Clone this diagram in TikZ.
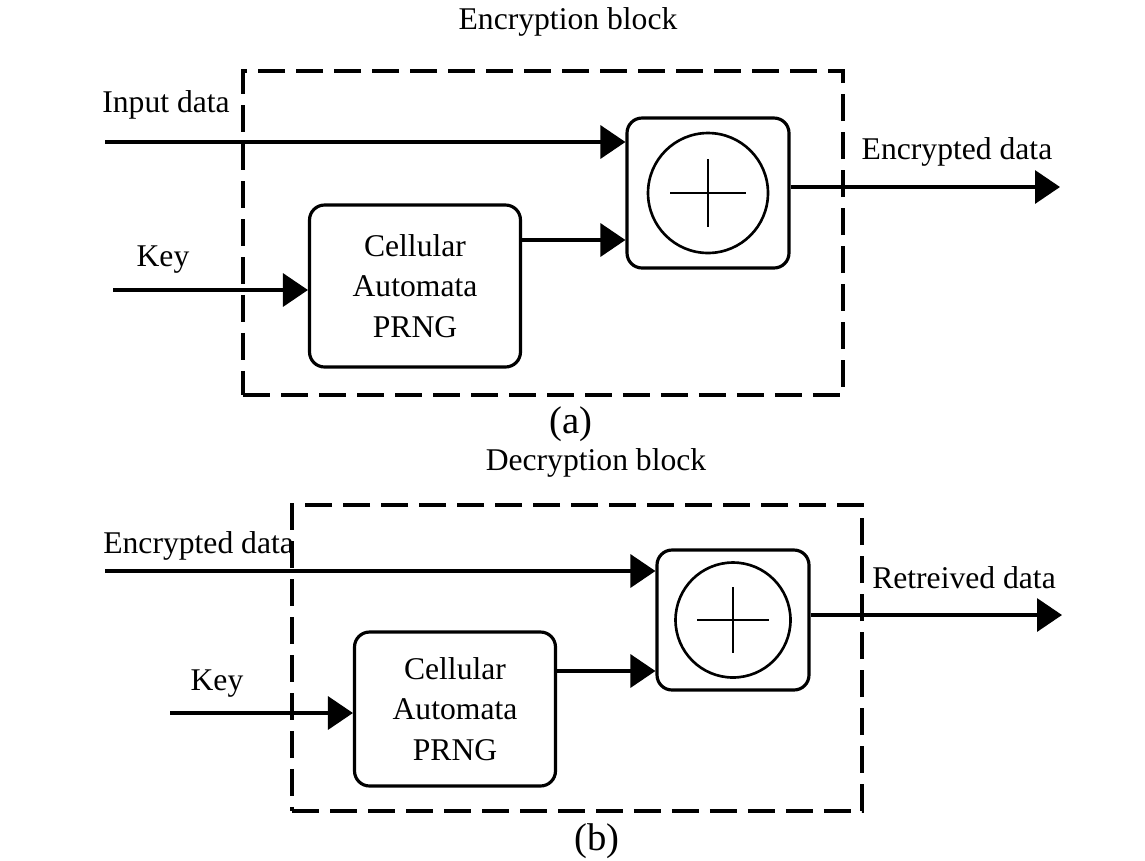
\documentclass[tikz,border=0pt]{standalone}
\usepackage{fontspec}
\setmainfont{Liberation Serif}
\usetikzlibrary{positioning,arrows.meta}
\tikzset{
  sig/.style={-{Triangle[length=5mm,width=6.6mm]},line width=1.9pt},
  blk/.style={draw,dash pattern=on 5.4mm off 2.2mm,line width=1.9pt,inner sep=0pt},
  unit/.style={draw,rounded corners=3mm,line width=1.8pt,align=center,
    font=\fontsize{18}{23}\selectfont},
  xring/.style={draw,circle,line width=1.5pt,inner sep=0pt},
  lbl/.style={font=\fontsize{18}{22}\selectfont,inner sep=0pt},
  subcap/.style={font=\fontsize{22}{26}\selectfont,inner sep=0pt},
}

\begin{document}
\begin{tikzpicture}[x=0.02cm,y=-0.02cm]
  \useasboundingbox (0,0) rectangle (1145,860);

  % (a) encryption
  \node[lbl] (enctitle) at (568,22) {Encryption block};
  \node[blk,minimum width=12cm,minimum height=6.48cm] (enc) at (543,233) {};
  \node[unit,minimum width=3.24cm,minimum height=3cm] (xa) at (708,193) {};
  \node[xring,minimum size=2.4cm] (xac) at (xa) {};
  \draw[line width=1.6pt] ([xshift=-7.6mm]xac.center) -- ([xshift=7.6mm]xac.center)
        ([yshift=6.8mm]xac.center) -- ([yshift=-6.8mm]xac.center);
  \node[unit,minimum width=4.22cm,minimum height=3.24cm] (caa) at (415,286)
    {Cellular\\Automata\\PRNG};
  \coordinate (ina) at (105,142);
  \coordinate (keya) at (113,290);
  \coordinate (outa) at (1060,187);
  \draw[sig] (ina) -- (ina -| xa.west);
  \draw[sig] (keya) -- (keya -| caa.west);
  \draw[sig] (caa.east |- 0,240) -- (xa.west |- 0,240);
  \draw[sig] (xa.east |- outa) -- (outa);
  \node[lbl,anchor=west] (inlbl) at (102,105) {Input data};
  \node[lbl] (keylbla) at (163,260) {Key};
  \node[lbl] (outlbla) at (957,152) {Encrypted data};
  \node[subcap] (capa) at (571,424) {(a)};

  % (b) decryption
  \node[lbl] (dectitle) at (596,463) {Decryption block};
  \node[blk,minimum width=11.4cm,minimum height=6.12cm] (dec) at (577,658) {};
  \node[unit,minimum width=3.04cm,minimum height=2.8cm] (xb) at (733,620) {};
  \node[xring,minimum size=2.3cm] (xbc) at (xb) {};
  \draw[line width=1.6pt] ([xshift=-7.2mm]xbc.center) -- ([xshift=7.2mm]xbc.center)
        ([yshift=6.6mm]xbc.center) -- ([yshift=-6.6mm]xbc.center);
  \node[unit,minimum width=4.02cm,minimum height=3.08cm] (cab) at (455,709)
    {Cellular\\Automata\\PRNG};
  \coordinate (inb) at (105,571);
  \coordinate (keyb) at (170,713);
  \coordinate (outb) at (1062,615);
  \draw[sig] (inb) -- (inb -| xb.west);
  \draw[sig] (keyb) -- (keyb -| cab.west);
  \draw[sig] (cab.east |- 0,671) -- (xb.west |- 0,671);
  \draw[sig] (xb.east |- outb) -- (outb);
  \node[lbl,anchor=west] (enclbl) at (103,546) {Encrypted data};
  \node[lbl] (keylblb) at (217,684) {Key};
  \node[lbl] (outlblb) at (964,578) {Retreived data};
  \node[subcap] (capb) at (597,841) {(b)};
\end{tikzpicture}
\end{document}
